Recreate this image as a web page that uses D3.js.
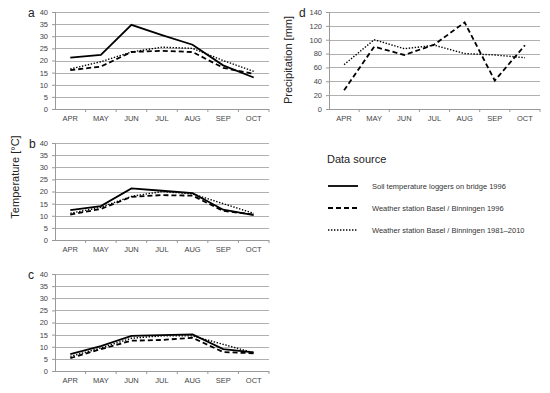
<!DOCTYPE html>
<html>
<head>
<meta charset="utf-8">
<script src="https://cdn.jsdelivr.net/npm/d3@7"></script>
<style>
  body { margin: 0; background: #fff; }
  svg { font-family: "Liberation Sans", Arial, sans-serif; }
</style>
</head>
<body>
<svg width="550" height="393"></svg>
<script>
var months = ["APR", "MAY", "JUN", "JUL", "AUG", "SEP", "OCT"];
var tempTicks = [0, 5, 10, 15, 20, 25, 30, 35, 40];
var precTicks = [0, 20, 40, 60, 80, 100, 120, 140];

// panel a
var aLoggers = [21.2, 22.3, 34.7, 30.5, 26.5, 18, 13];
var aStation = [16, 17.5, 23.5, 24, 23.5, 17, 14.5];
var aNormal = [16.5, 19.5, 23.5, 25.5, 25, 20, 15.5];
// panel b
var bLoggers = [12.3, 14, 21.3, 20.3, 19.3, 12.5, 10.3];
var bStation = [10.5, 12.8, 17.8, 18.5, 18.3, 12, 10.5];
var bNormal = [11, 13.5, 18, 20, 19, 15, 11];
// panel c
var cLoggers = [7, 10.3, 14.5, 14.8, 15.1, 9, 7.7];
var cStation = [5.3, 9, 12.5, 12.8, 13.7, 7.8, 7.3];
var cNormal = [6, 9.5, 13.5, 14.5, 14.5, 11, 7.5];
// panel d
var dStation = [27, 90, 78, 93, 125, 41, 92];
var dNormal = [64, 100, 87, 92, 80, 78, 74];

var legendLabels = ["Soil temperature loggers on bridge 1996",
    "Weather station Basel / Binningen 1996",
    "Weather station Basel / Binningen 1981\u20132010"];

var styles = [
    { width: 1.8, dash: null },
    { width: 1.8, dash: "5,3" },
    { width: 1.4, dash: "1.4,1.6" }
];

var svg = d3.select("svg");

function drawPanel(letter, box, ticks, series) {
    var x = d3.scaleBand().domain(months).range([box.left, box.right]);
    var y = d3.scaleLinear().domain([0, d3.max(ticks)]).range([box.bottom, box.top]);

    var g = svg.append("g");

    // grid
    g.selectAll("line.grid")
        .data(ticks.slice(1))
        .enter()
        .append("line")
        .attr("x1", box.left)
        .attr("x2", box.right)
        .attr("y1", function(d) { return Math.round(y(d)) + 0.5; })
        .attr("y2", function(d) { return Math.round(y(d)) + 0.5; })
        .attr("stroke", "#b0b0b0")
        .attr("stroke-width", 1);

    // Y axis
    var yAxis = d3.axisLeft(y).tickValues(ticks).tickSize(3).tickPadding(4);
    var ya = g.append("g")
        .attr("transform", "translate(" + box.left + ",0)")
        .call(yAxis);
    ya.select(".domain").attr("stroke", "#999");
    ya.selectAll(".tick line").attr("stroke", "#999");
    ya.selectAll("text").attr("font-size", "7.5px").attr("fill", "#444");

    // X axis
    var xAxis = d3.axisBottom(x).tickSize(0).tickPadding(7);
    var xa = g.append("g")
        .attr("transform", "translate(0," + box.bottom + ")")
        .call(xAxis);
    xa.select(".domain").attr("stroke", "#999").attr("d", "M" + box.left + ",0.5H" + box.right);
    xa.selectAll("text").attr("font-size", "7.5px").attr("fill", "#444");

    // band boundary ticks
    g.selectAll("line.btick")
        .data(months)
        .enter()
        .append("line")
        .attr("x1", function(d) { return x(d) + x.bandwidth(); })
        .attr("x2", function(d) { return x(d) + x.bandwidth(); })
        .attr("y1", box.bottom)
        .attr("y2", box.bottom + 3)
        .attr("stroke", "#999");

    var line = d3.line()
        .x(function(d, i) { return x(months[i]) + x.bandwidth() / 2; })
        .y(function(d) { return y(d); });

    series.forEach(function(s) {
        g.append("path")
            .attr("d", line(s.values))
            .attr("fill", "none")
            .attr("stroke", "#000")
            .attr("stroke-width", styles[s.style].width)
            .attr("stroke-dasharray", styles[s.style].dash);
    });

    svg.append("text")
        .attr("x", box.letterX)
        .attr("y", box.top + 5)
        .attr("font-size", "12px")
        .attr("fill", "#222")
        .text(letter);
}

drawPanel("a", { left: 55, right: 269, top: 12, bottom: 109, letterX: 28 }, tempTicks, [
    { values: aNormal, style: 2 }, { values: aStation, style: 1 }, { values: aLoggers, style: 0 }]);
drawPanel("b", { left: 55, right: 269, top: 143, bottom: 240, letterX: 29 }, tempTicks, [
    { values: bNormal, style: 2 }, { values: bStation, style: 1 }, { values: bLoggers, style: 0 }]);
drawPanel("c", { left: 55, right: 269, top: 274, bottom: 371, letterX: 28 }, tempTicks, [
    { values: cNormal, style: 2 }, { values: cStation, style: 1 }, { values: cLoggers, style: 0 }]);
drawPanel("d", { left: 329, right: 540, top: 12, bottom: 109, letterX: 299 }, precTicks, [
    { values: dNormal, style: 2 }, { values: dStation, style: 1 }]);

// axis titles
svg.append("text")
    .attr("transform", "translate(19,177) rotate(-90)")
    .attr("text-anchor", "middle")
    .attr("font-size", "11px")
    .attr("fill", "#222")
    .text("Temperature [\u00b0C]");

svg.append("text")
    .attr("transform", "translate(292,60) rotate(-90)")
    .attr("text-anchor", "middle")
    .attr("font-size", "11px")
    .attr("fill", "#222")
    .text("Precipitation [mm]");

// legend
svg.append("text")
    .attr("x", 327)
    .attr("y", 163)
    .attr("font-size", "11px")
    .attr("fill", "#222")
    .text("Data source");

var legendY = d3.scalePoint().domain(legendLabels).range([186, 230]);

legendLabels.forEach(function(label, i) {
    var ly = legendY(label);
    svg.append("line")
        .attr("x1", 328)
        .attr("x2", 358)
        .attr("y1", ly)
        .attr("y2", ly)
        .attr("stroke", "#000")
        .attr("stroke-width", styles[i].width)
        .attr("stroke-dasharray", styles[i].dash);
    svg.append("text")
        .attr("x", 372)
        .attr("y", ly + 2.5)
        .attr("font-size", "7.5px")
        .attr("fill", "#333")
        .text(label);
});
</script>
</body>
</html>
